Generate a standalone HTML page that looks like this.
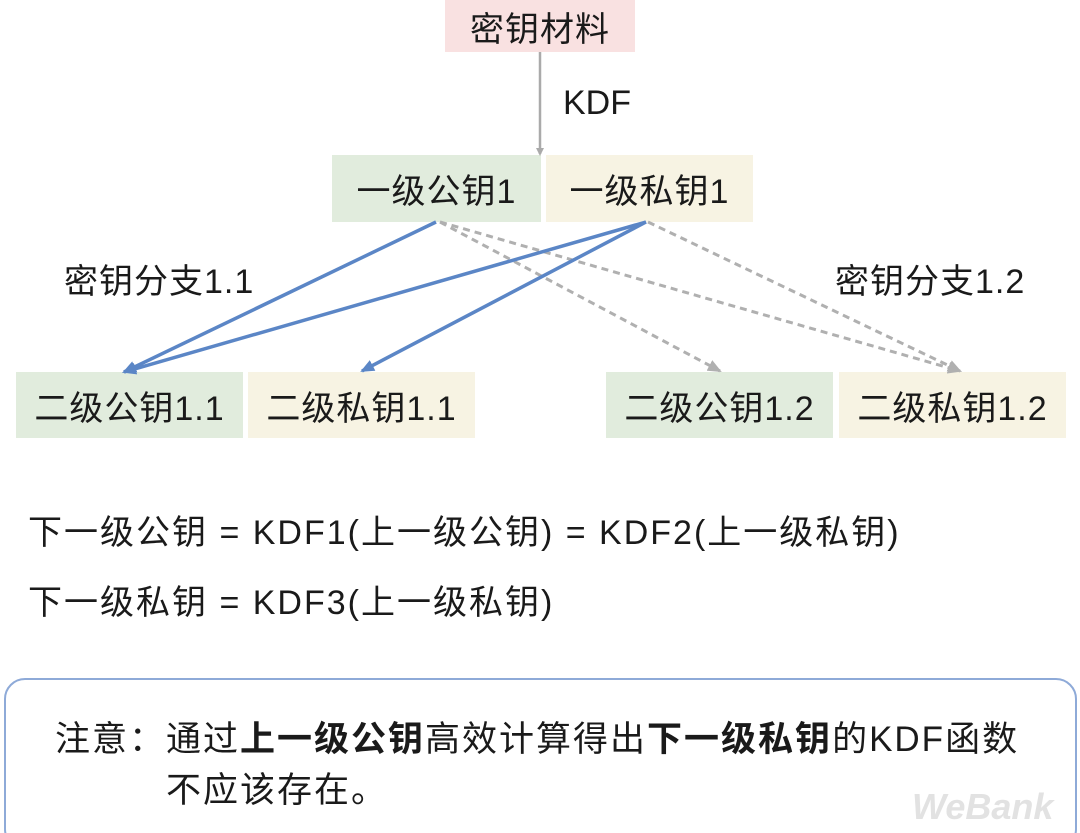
<!DOCTYPE html>
<html><head><meta charset="utf-8"><style>
body{margin:0;width:1080px;height:833px;background:#fff;position:relative;overflow:hidden;font-family:"Liberation Sans","Noto Sans CJK SC",sans-serif;color:#1a1a1a}
.b{position:absolute;display:flex;align-items:center;justify-content:center;font-size:34px;letter-spacing:1px}
.g{background:#e1ecdd}.c{background:#f7f3e3}
.t{position:absolute;font-size:34px;white-space:nowrap}
</style></head><body>
<div class="b" style="left:445px;top:0;width:190px;height:52px;background:#f9e1e1">密钥材料</div>
<div class="b g" style="left:332px;top:155px;width:209px;height:67px">一级公钥1</div>
<div class="b c" style="left:546px;top:155px;width:207px;height:67px">一级私钥1</div>
<div class="b g" style="left:16px;top:372px;width:227px;height:66px">二级公钥1.1</div>
<div class="b c" style="left:248px;top:372px;width:227px;height:66px">二级私钥1.1</div>
<div class="b g" style="left:606px;top:372px;width:227px;height:66px">二级公钥1.2</div>
<div class="b c" style="left:839px;top:372px;width:227px;height:66px">二级私钥1.2</div>
<svg style="position:absolute;left:0;top:0" width="1080" height="833">
<defs>
<marker id="ag" markerWidth="8" markerHeight="8" refX="6" refY="4" orient="auto" markerUnits="userSpaceOnUse"><path d="M0,0 L8,4 L0,8z" fill="#aaa"/></marker>
<marker id="ab" markerWidth="14" markerHeight="12" refX="12" refY="6" orient="auto" markerUnits="userSpaceOnUse"><path d="M0,0 L14,6 L0,12z" fill="#5b86c6"/></marker>
<marker id="ad" markerWidth="14" markerHeight="12" refX="12" refY="6" orient="auto" markerUnits="userSpaceOnUse"><path d="M0,0 L14,6 L0,12z" fill="#b0b0b0"/></marker>
</defs>
<line x1="540" y1="52" x2="540" y2="154" stroke="#aaa" stroke-width="2.5" marker-end="url(#ag)"/>
<g stroke="#b0b0b0" stroke-width="3" stroke-dasharray="7,5" fill="none">
<line x1="440" y1="222" x2="720" y2="371" marker-end="url(#ad)"/>
<line x1="440" y1="222" x2="960" y2="371" marker-end="url(#ad)"/>
<line x1="648" y1="222" x2="960" y2="371" marker-end="url(#ad)"/>
</g>
<g stroke="#5b86c6" stroke-width="3.5" fill="none">
<line x1="436" y1="222" x2="124" y2="372" marker-end="url(#ab)"/>
<line x1="646" y1="222" x2="124" y2="372" marker-end="url(#ab)"/>
<line x1="646" y1="222" x2="362" y2="371" marker-end="url(#ab)"/>
</g>
<rect x="5" y="679" width="1071" height="170" rx="20" fill="none" stroke="#8eaad8" stroke-width="2"/>
</svg>
<div class="t" style="left:563px;top:84px">KDF</div>
<div class="t" style="left:64px;top:254px;letter-spacing:1px">密钥分支1.1</div>
<div class="t" style="left:835px;top:254px;letter-spacing:1px">密钥分支1.2</div>
<div class="t" style="left:28px;top:505px;letter-spacing:2px">下一级公钥 = KDF1(上一级公钥) = KDF2(上一级私钥)</div>
<div class="t" style="left:28px;top:575px;letter-spacing:2px">下一级私钥 = KDF3(上一级私钥)</div>
<div class="t" style="left:55px;top:711px;font-size:35px;letter-spacing:2px">注意：通过<b>上一级公钥</b>高效计算得出<b>下一级私钥</b>的KDF函数</div>
<div class="t" style="left:166px;top:762px;font-size:35px;letter-spacing:2px">不应该存在。</div>
<div class="t" style="left:912px;top:786px;font-size:36px;font-weight:bold;font-style:italic;color:#e2e2e2">WeBank</div>
</body></html>
